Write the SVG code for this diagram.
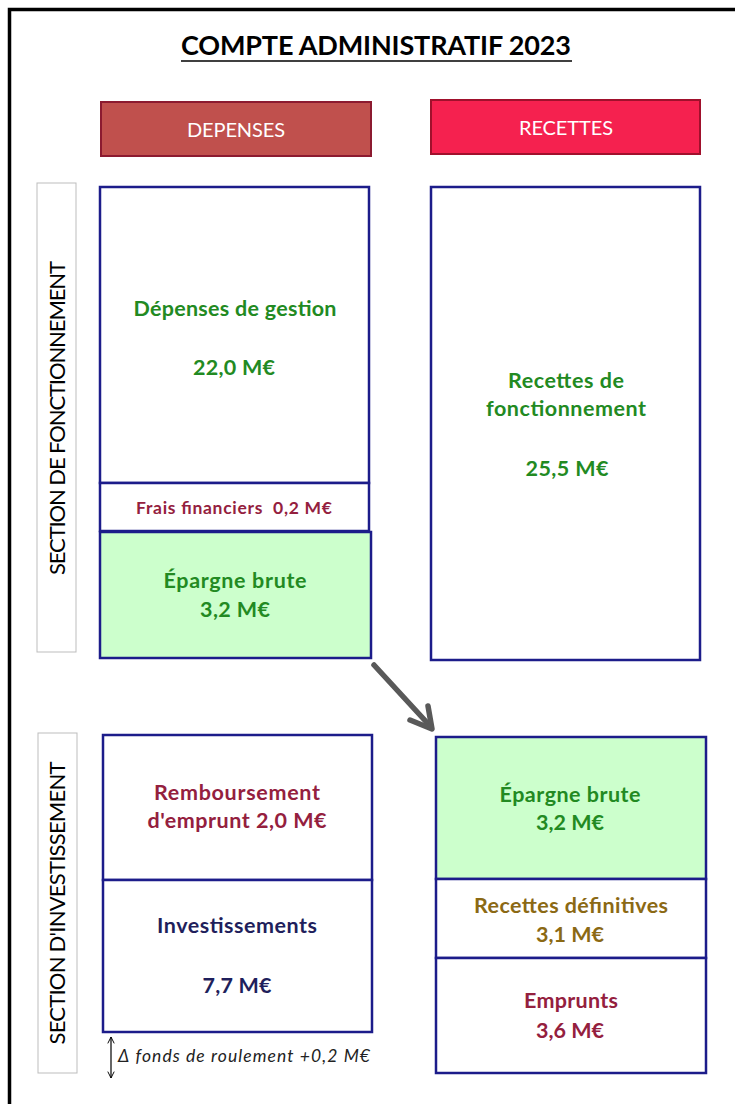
<svg xmlns="http://www.w3.org/2000/svg" width="735" height="1104" viewBox="0 0 735 1104">
<style>
.box{fill:#fff;stroke:#1c1c8a;stroke-width:2.5}
.green{fill:#ccffcc}
.lbl{fill:#fff;stroke:#bdbdbd;stroke-width:1}
text{font-family:Lato,"Liberation Sans",sans-serif;text-anchor:middle}
.t{font-weight:bold;font-size:21.5px}
.g{fill:#228a22}
.r{fill:#94203e}
.n{fill:#1f1f5c}
.o{fill:#8b6914}
.sec{font-size:22px;fill:#000}
.hd{font-size:20px;fill:#fff}
</style>
<defs>
<marker id="dbl" viewBox="0 0 10 10" refX="9" refY="5" markerWidth="8" markerHeight="8" orient="auto-start-reverse" markerUnits="userSpaceOnUse">
<path d="M1,1 L9,5 L1,9" fill="none" stroke="#000" stroke-width="1.2"/>
</marker>
</defs>
<rect width="735" height="1104" fill="#fff"/>
<g id="frame">
<path d="M9.5,1104 V9.5 H735" fill="none" stroke="#000" stroke-width="3.5"/>
</g>
<g id="title">
<text x="376" y="55" font-size="27" font-weight="bold" textLength="390" fill="#000">COMPTE ADMINISTRATIF 2023</text>
<line x1="181" y1="61" x2="572" y2="61" stroke="#000" stroke-width="1.5"/>
</g>
<g id="depenses-header">
<rect x="101" y="102" width="270" height="54" fill="#c0504d" stroke="#8c1a30" stroke-width="2"/>
<text class="hd" x="236" y="137" textLength="98">DEPENSES</text>
</g>
<g id="recettes-header">
<rect x="431" y="100" width="269" height="54" fill="#f5214f" stroke="#a0102c" stroke-width="2"/>
<text class="hd" x="566" y="135" textLength="94">RECETTES</text>
</g>
<g id="section-fonctionnement">
<rect class="lbl" x="37" y="183" width="39" height="469"/>
<text class="sec" transform="translate(65,418) rotate(-90)" textLength="314">SECTION DE FONCTIONNEMENT</text>
</g>
<g id="depenses-gestion">
<rect class="box" x="100" y="187" width="269" height="296"/>
<text class="t g" x="235" y="316" textLength="203">Dépenses de gestion</text>
<text class="t g" x="234" y="375" textLength="82">22,0 M€</text>
</g>
<g id="frais-financiers">
<rect class="box" x="100" y="483" width="269" height="48"/>
<text class="r" x="234" y="514" font-size="17.5" font-weight="bold" textLength="196" xml:space="preserve">Frais financiers  0,2 M€</text>
</g>
<g id="epargne-brute-fonct">
<rect class="box green" x="100" y="532" width="271" height="126"/>
<text class="t g" x="235" y="588" textLength="143">Épargne brute</text>
<text class="t g" x="235" y="617" textLength="70">3,2 M€</text>
</g>
<g id="recettes-fonctionnement">
<rect class="box" x="431" y="187" width="269" height="473"/>
<text class="t g" x="566" y="388" textLength="116">Recettes de</text>
<text class="t g" x="566" y="416" textLength="160">fonctionnement</text>
<text class="t g" x="567" y="476" textLength="83">25,5 M€</text>
</g>
<g id="section-investissement">
<rect class="lbl" x="38" y="733" width="39" height="340"/>
<text class="sec" transform="translate(65,903) rotate(-90)" textLength="283">SECTION D'INVESTISSEMENT</text>
</g>
<g id="remboursement">
<rect class="box" x="103" y="735" width="269" height="145"/>
<text class="t r" x="237" y="800" textLength="166">Remboursement</text>
<text class="t r" x="237" y="828" textLength="179">d'emprunt 2,0 M€</text>
</g>
<g id="investissements">
<rect class="box" x="103" y="880" width="269" height="152"/>
<text class="t n" x="237" y="933" textLength="160">Investissements</text>
<text class="t n" x="237" y="993" textLength="69">7,7 M€</text>
</g>
<g id="fonds-roulement">
<line x1="111" y1="1037" x2="111" y2="1078" stroke="#000" stroke-width="1.2" marker-start="url(#dbl)" marker-end="url(#dbl)"/>
<text x="244" y="1062" font-size="17.5" font-style="italic" fill="#222" textLength="252">Δ fonds de roulement +0,2 M€</text>
</g>
<g id="epargne-brute-invest">
<rect class="box green" x="436" y="737" width="270" height="142"/>
<text class="t g" x="570" y="802" textLength="141">Épargne brute</text>
<text class="t g" x="570" y="830" textLength="68">3,2 M€</text>
</g>
<g id="recettes-definitives">
<rect class="box" x="436" y="879" width="270" height="79"/>
<text class="t o" x="571" y="913" textLength="194">Recettes définitives</text>
<text class="t o" x="570" y="942" textLength="68">3,1 M€</text>
</g>
<g id="emprunts">
<rect class="box" x="436" y="958" width="270" height="115"/>
<text class="t r" x="571" y="1008" textLength="94">Emprunts</text>
<text class="t r" x="570" y="1038" textLength="68">3,6 M€</text>
</g>
<g id="connectors">
<line x1="374" y1="665" x2="431" y2="727" stroke="#595959" stroke-width="5.5" stroke-linecap="round"/>
<polyline points="410,720 432,729 428,706" fill="none" stroke="#595959" stroke-width="5.5" stroke-linecap="round" stroke-linejoin="round"/>
</g>
</svg>
